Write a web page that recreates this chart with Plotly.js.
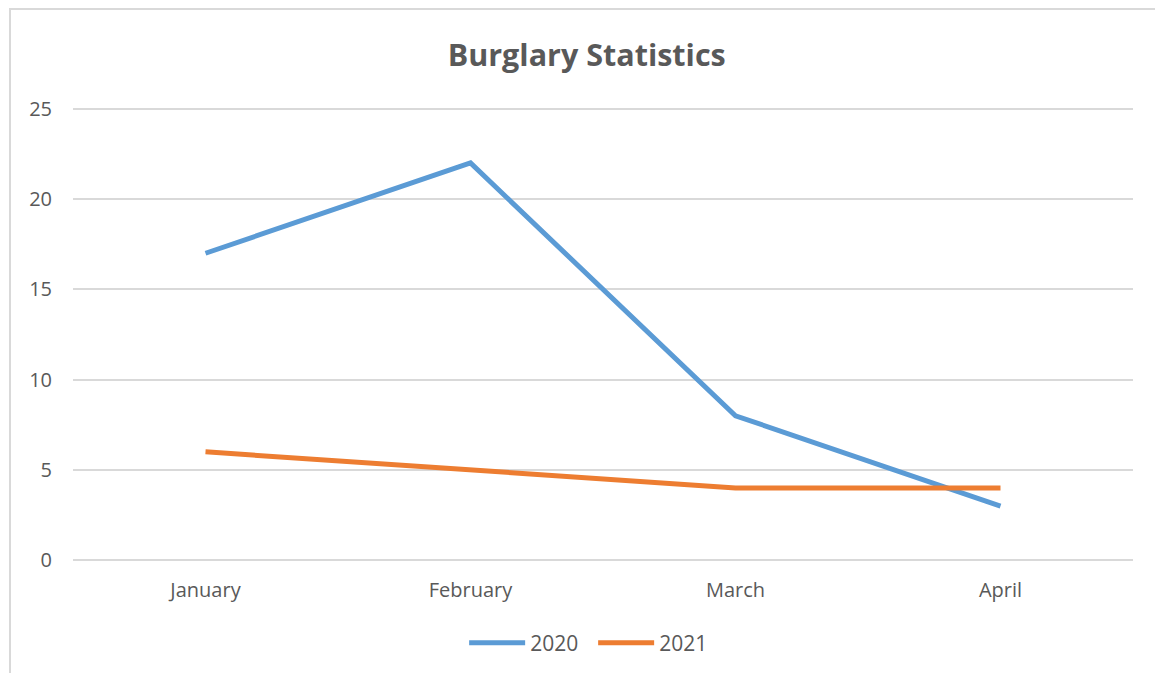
<!DOCTYPE html>
<html>
<head>
<meta charset="utf-8">
<script src="https://cdn.plot.ly/plotly-3.0.1.min.js"></script>
<style>
html,body{margin:0;padding:0;background:#fff;}
#wrap{position:relative;width:1155px;height:673px;overflow:hidden;}
#frame{position:absolute;left:9px;top:8px;width:1200px;height:700px;border:2px solid #d9d9d9;box-sizing:border-box;pointer-events:none;}
#chart{position:absolute;left:0;top:0;width:1155px;height:673px;}
</style>
</head>
<body>
<div id="wrap">
<div id="chart"></div>
<div id="frame"></div>
</div>
<script>
const months = ["January", "February", "March", "April"];
const series2020 = [17, 22, 8, 3];
const series2021 = [6, 5, 4, 4];
const yTicks = [0, 5, 10, 15, 20, 25];

const fontFam = "Open Sans, Liberation Sans, sans-serif";
const traces = [
  {x: months, y: series2020, name: "2020", type: "scatter", mode: "lines",
   line: {color: "#5B9BD5", width: 5}},
  {x: months, y: series2021, name: "2021", type: "scatter", mode: "lines",
   line: {color: "#ED7D31", width: 5}}
];
const layout = {
  width: 1155, height: 673,
  margin: {l: 73, r: 22, t: 107, b: 111, autoexpand: false},
  paper_bgcolor: "rgba(0,0,0,0)", plot_bgcolor: "#fff",
  font: {family: fontFam, color: "#595959", size: 20},
  title: {text: "<b>Burglary Statistics</b>", x: 0.508, xanchor: "center", y: 0.918, yanchor: "middle",
          font: {size: 30.5, color: "#595959", family: fontFam}},
  xaxis: {type: "category", range: [-0.5, 3.5], showgrid: false, zeroline: false,
          showline: false, ticks: "", ticklabelstandoff: 14, tickfont: {size: 20, color: "#595959"}},
  yaxis: {range: [-0.1, 25.1], tickvals: yTicks, showgrid: true, gridcolor: "#d9d9d9", gridwidth: 2,
          zeroline: false, showline: false, ticks: "", ticklabelstandoff: 20,
          tickfont: {size: 20, color: "#595959"}},
  showlegend: true,
  legend: {orientation: "h", x: 0.369, xanchor: "left", y: -0.178, yanchor: "middle",
           font: {size: 21, color: "#595959"}, itemwidth: 56, tracegroupgap: 0,
           entrywidth: 58, entrywidthmode: "pixels"}
};
Plotly.newPlot("chart", traces, layout, {displayModeBar: false, staticPlot: true});
</script>
</body>
</html>
